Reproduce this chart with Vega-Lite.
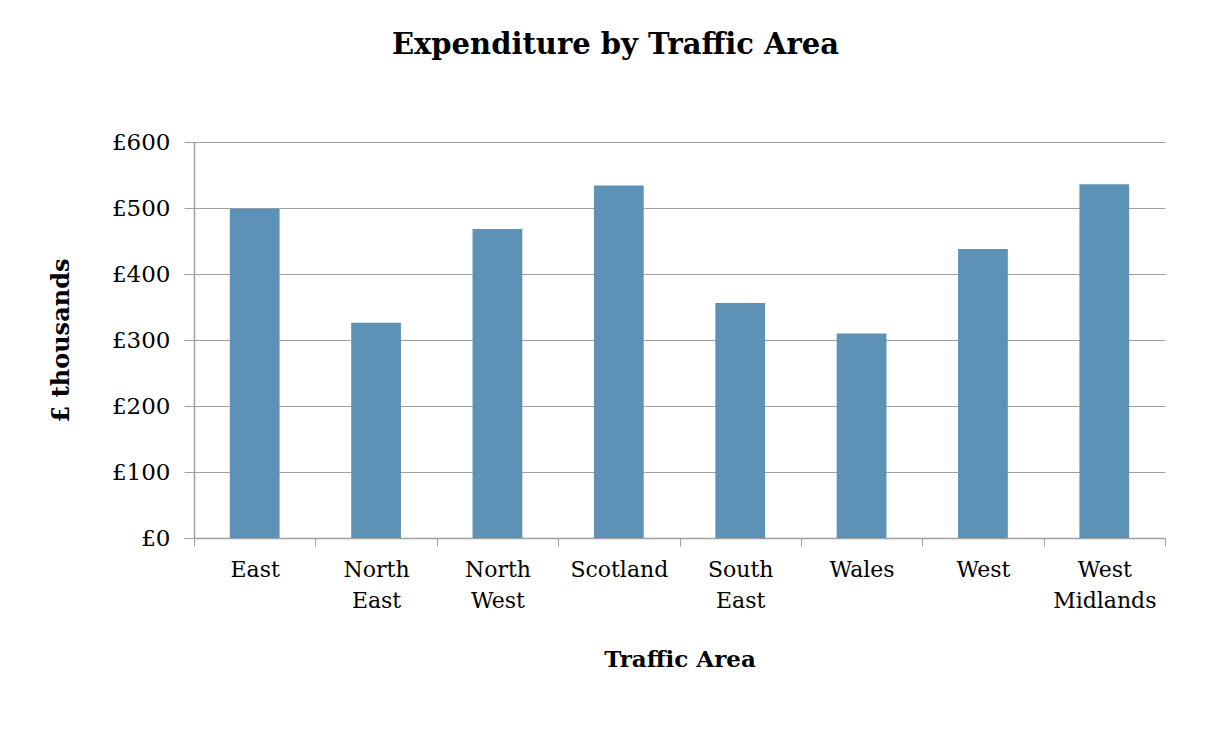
{
  "$schema": "https://vega.github.io/schema/vega-lite/v6.json",
  "width": 971,
  "height": 396,
  "autosize": {"type": "none"},
  "padding": {"left": 194, "top": 142, "right": 50, "bottom": 196},
  "background": "white",
  "title": {
    "text": "Expenditure by Traffic Area",
    "font": "DejaVu Serif",
    "fontSize": 29,
    "fontWeight": "bold",
    "color": "#000000",
    "anchor": "middle",
    "frame": "group",
    "dx": -64,
    "offset": 71
  },
  "data": {
    "values": [
      {"area": "East", "value": 499},
      {"area": "North East", "value": 326},
      {"area": "North West", "value": 468},
      {"area": "Scotland", "value": 534},
      {"area": "South East", "value": 356},
      {"area": "Wales", "value": 310},
      {"area": "West", "value": 438},
      {"area": "West Midlands", "value": 536}
    ]
  },
  "mark": {"type": "bar", "color": "#5d92b6", "width": {"band": 0.41}},
  "encoding": {
    "x": {
      "field": "area",
      "type": "nominal",
      "sort": null,
      "scale": {"paddingInner": 0, "paddingOuter": 0},
      "axis": {
        "title": "Traffic Area",
        "titleFont": "DejaVu Serif",
        "titleFontSize": 23,
        "titleFontWeight": "bold",
        "titleColor": "#000000",
        "titlePadding": 37,
        "labelFont": "DejaVu Serif",
        "labelFontSize": 22,
        "labelColor": "#000000",
        "labelAngle": 0,
        "labelPadding": 13,
        "labelLineHeight": 31,
        "labelExpr": "split(datum.label, ' ')",
        "tickBand": "extent",
        "tickSize": 8,
        "tickColor": "#a0a0a0",
        "domainColor": "#a0a0a0",
        "domainWidth": 1.5,
        "grid": false
      }
    },
    "y": {
      "field": "value",
      "type": "quantitative",
      "scale": {"domain": [0, 600], "nice": false},
      "axis": {
        "title": "£ thousands",
        "titleFont": "DejaVu Serif",
        "titleFontSize": 24,
        "titleFontWeight": "bold",
        "titleColor": "#000000",
        "titlePadding": 38,
        "values": [0, 100, 200, 300, 400, 500, 600],
        "labelExpr": "'£' + datum.value",
        "labelFont": "DejaVu Serif",
        "labelFontSize": 23,
        "labelColor": "#000000",
        "labelPadding": 14,
        "tickSize": 10,
        "tickColor": "#a0a0a0",
        "domainColor": "#a0a0a0",
        "domainWidth": 1.5,
        "gridColor": "#a0a0a0",
        "gridWidth": 1.2
      }
    }
  },
  "config": {"view": {"stroke": null}}
}
